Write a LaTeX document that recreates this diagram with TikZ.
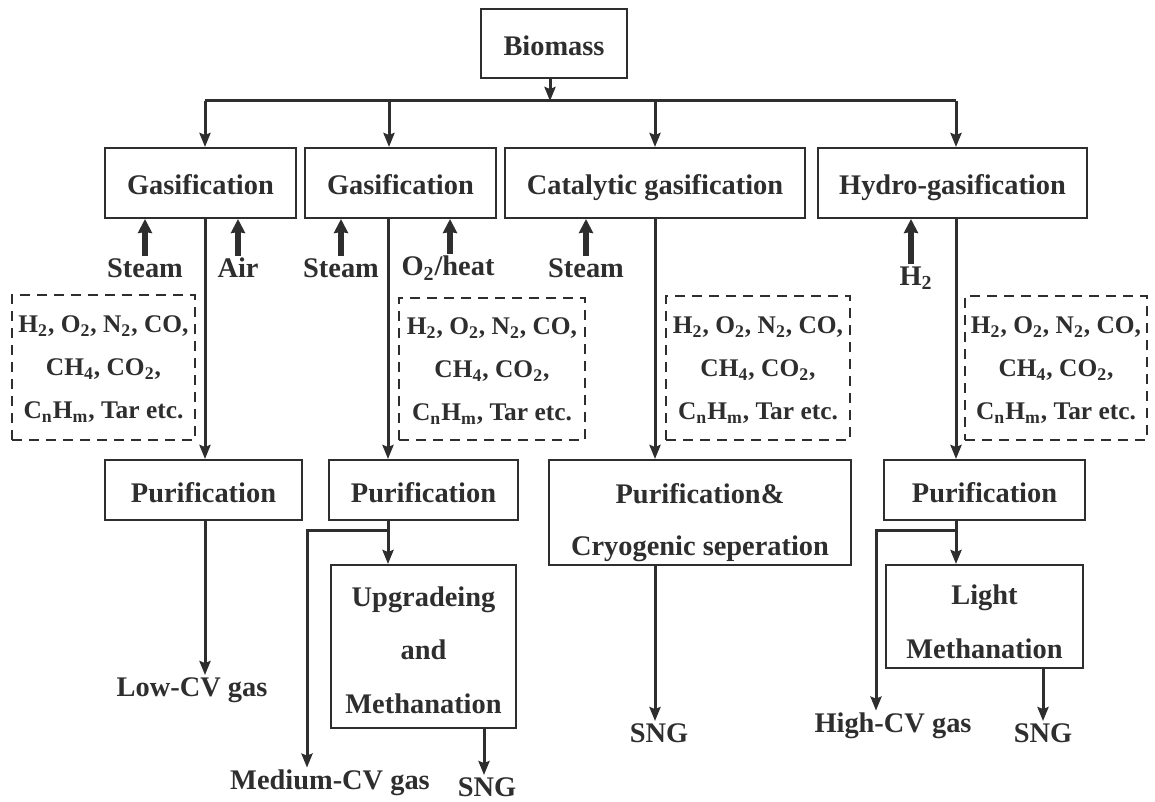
\documentclass[tikz,border=0pt]{standalone}
\usepackage{fontspec}
\setmainfont{Liberation Serif}
\usetikzlibrary{arrows.meta}
\definecolor{ink}{HTML}{2E2E2E}
\tikzset{
  txt/.style={font=\bfseries\fontsize{14.2}{17}\selectfont, text=ink},
  box/.style={txt, draw=ink, line width=1pt, inner sep=0pt, align=center, text height=12pt, text depth=0pt},
  frame/.style={draw=ink, line width=1pt, inner sep=0pt},
  mtxt/.style={txt, inner sep=0pt, align=center, text depth=0pt},
  gasbox/.style={draw=ink, line width=0.9pt, dash pattern=on 5pt off 3.5pt, inner sep=0pt, align=center, text=ink,
     text depth=0pt, font=\bfseries\fontsize{12.7}{21.5}\selectfont},
  lbl/.style={txt, inner sep=1pt},
  arr/.style={draw=ink, line width=1.5pt, -{Stealth[length=7pt,width=5.5pt,inset=1pt]}},
  ln/.style={draw=ink, line width=1.5pt},
  fat/.style={draw=ink, line width=2.6pt, -{Stealth[length=7pt,width=7pt,inset=0.5pt]}},
}
\newcommand{\gasmix}{H\textsubscript{2}, O\textsubscript{2}, N\textsubscript{2}, CO,\\ CH\textsubscript{4}, CO\textsubscript{2},\\ C\textsubscript{n}H\textsubscript{m}, Tar etc.}
\begin{document}
\begin{tikzpicture}[x=0.5pt,y=-0.5pt]
\useasboundingbox (0,0) rectangle (1155,802);
% boxes
\node[box, minimum width=73pt, minimum height=34.5pt] (bio) at (554,43.5) {Biomass};
\node[box, minimum width=95.5pt, minimum height=35pt] (g1) at (200.5,183) {Gasification};
\node[box, minimum width=95.5pt, minimum height=35pt] (g2) at (400.5,183) {Gasification};
\node[box, minimum width=150pt, minimum height=35pt] (g3) at (655,183) {Catalytic gasification};
\node[box, minimum width=134.5pt, minimum height=35pt] (g4) at (952.5,183) {Hydro-gasification};
% dashed gas boxes
\node[gasbox, minimum width=91.5pt, minimum height=72.5pt] (d1) at (103.5,367.5) {\gasmix};
\node[gasbox, minimum width=93pt, minimum height=71pt] (d2) at (492,369) {\gasmix};
\node[gasbox, minimum width=92pt, minimum height=72pt] (d3) at (758,368) {\gasmix};
\node[gasbox, minimum width=91pt, minimum height=72pt] (d4) at (1056,368) {\gasmix};
% purification
\node[box, minimum width=98.5pt, minimum height=30pt] (p1) at (203.5,490) {Purification};
\node[box, minimum width=94.5pt, minimum height=30pt] (p2) at (423.5,490) {Purification};
\node[frame, minimum width=151pt, minimum height=52.5pt] (p3) at (700,512.5) {};
\node[mtxt, font=\bfseries\fontsize{14.2}{26}\selectfont] (p3t) at (700,519) {Purification\&\\Cryogenic seperation};
\node[box, minimum width=100.5pt, minimum height=30pt] (p4) at (984.5,490) {Purification};
\node[frame, minimum width=92.5pt, minimum height=81.5pt] (up) at (423.5,646.5) {};
\node[mtxt, font=\bfseries\fontsize{14.2}{26.75}\selectfont] (upt) at (423.5,650) {Upgradeing\\and\\Methanation};
\node[frame, minimum width=98.5pt, minimum height=51.5pt] (li) at (984.5,616.5) {};
\node[mtxt, font=\bfseries\fontsize{14.2}{27}\selectfont] (lit) at (984.5,622) {Light\\Methanation};
% input labels
\node[lbl] (s1) at (145,268) {Steam};
\node[lbl] (air) at (238,268) {Air};
\node[lbl] (s2) at (341,268) {Steam};
\node[lbl] (o2) at (448,268) {O\textsubscript{2}/heat};
\node[lbl] (s3) at (586,268) {Steam};
\node[lbl] (h2) at (916,278) {H\textsubscript{2}};
% output labels
\node[lbl] (low) at (192,690) {Low-CV gas};
\node[lbl] (med) at (330,783) {Medium-CV gas};
\node[lbl] (sng2) at (487,787) {SNG};
\node[lbl] (sng3) at (659,733) {SNG};
\node[lbl] (high) at (893,726) {High-CV gas};
\node[lbl] (sng4) at (1043,733) {SNG};
% coordinates
\coordinate (b1) at (205,101);
\coordinate (b2) at (389,101);
\coordinate (b3) at (655,101);
\coordinate (b4) at (956,101);
\coordinate (bc) at (550,101);
\coordinate (m2) at (307,530);
\coordinate (j2) at (388,530);
\coordinate (m4) at (876,530);
\coordinate (j4) at (956,530);
\coordinate (o2x) at (484,0);
\coordinate (o4x) at (1043,0);
% bus
\draw[ln] (b1) -- (b4);
\draw[arr] (bc |- bio.south) -- (bc);
\draw[arr] (b1) -- (b1 |- g1.north);
\draw[arr] (b2) -- (b2 |- g2.north);
\draw[arr] (b3) -- (b3 |- g3.north);
\draw[arr] (b4) -- (b4 |- g4.north);
% inputs
\draw[fat] (s1.north) -- (s1.north |- g1.south);
\draw[fat] (air.north) -- (air.north |- g1.south);
\draw[fat] (s2.north) -- (s2.north |- g2.south);
\draw[fat] ([xshift=1pt]o2.north) -- ([xshift=1pt]o2.north |- g2.south);
\draw[fat] (s3.north) -- (s3.north |- g3.south);
\draw[fat] ([xshift=-2.5pt]h2.north) -- ([xshift=-2.5pt]h2.north |- g4.south);
% gasifier to purification
\draw[arr] (b1 |- g1.south) -- (b1 |- p1.north);
\draw[arr] (j2 |- g2.south) -- (j2 |- p2.north);
\draw[arr] (b3 |- g3.south) -- (b3 |- p3.north);
\draw[arr] (b4 |- g4.south) -- (b4 |- p4.north);
% outputs
\draw[arr] (b1 |- p1.south) -- (b1 |- low.north);
\draw[arr] (j2 |- p2.south) -- (j2 |- up.north);
\draw[arr] (j2) -- (m2) -- (m2 |- med.north);
\draw[arr] (o2x |- up.south) -- (o2x |- sng2.north);
\draw[arr] (b3 |- p3.south) -- (b3 |- sng3.north);
\draw[arr] (j4 |- p4.south) -- (j4 |- li.north);
\draw[arr] (j4) -- (m4) -- (m4 |- high.north);
\draw[arr] (o4x |- li.south) -- (o4x |- sng4.north);
\end{tikzpicture}
\end{document}
